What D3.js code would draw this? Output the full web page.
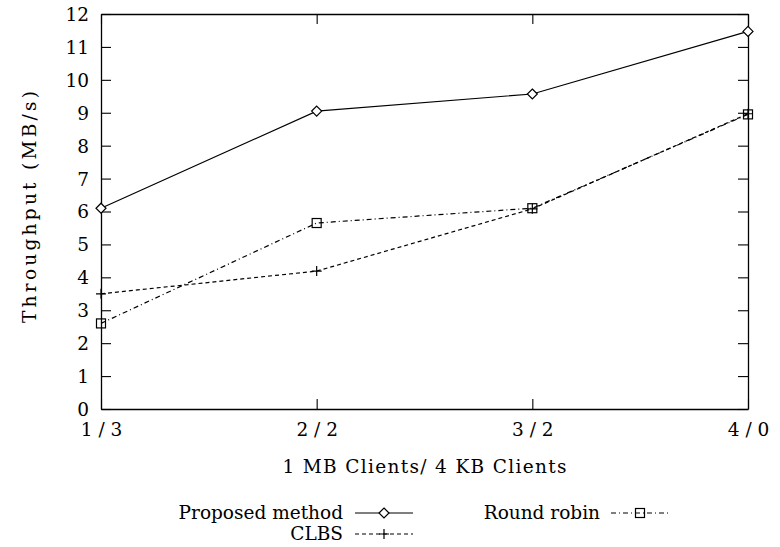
<!DOCTYPE html>
<html>
<head>
<meta charset="utf-8">
<script src="https://cdn.jsdelivr.net/npm/d3@7"></script>
<style>
    body { margin: 0; background: #fff; }
    text { font-family: "DejaVu Serif", "Liberation Serif", serif; fill: #000; }
</style>
</head>
<body>
<div id="chart"></div>
<script>
(function () {
    "use strict";

    // chart data
    const categories = ["1 / 3", "2 / 2", "3 / 2", "4 / 0"];
    const proposedValues = [6.1, 9.05, 9.57, 11.47];
    const clbsValues = [3.5, 4.19, 6.08, 8.97];
    const roundRobinValues = [2.6, 5.65, 6.1, 8.95];
    const yTicks = [0, 1, 2, 3, 4, 5, 6, 7, 8, 9, 10, 11, 12];

    const series = [
        { name: "Proposed method", values: proposedValues, dash: null, marker: "diamond" },
        { name: "CLBS", values: clbsValues, dash: "4,3", marker: "plus" },
        { name: "Round robin", values: roundRobinValues, dash: "5,3,1,3", marker: "square" },
    ];

    const width = 780;
    const height = 547;
    const margin = { top: 14, right: 32, bottom: 138, left: 101 };
    const fontSize = "18.5px";
    const fontFamily = "DejaVu Serif, serif";

    const svg = d3.select("#chart").append("svg").attr("width", width).attr("height", height);

    const x = d3.scalePoint().domain(categories).range([margin.left, width - margin.right]);
    const y = d3.scaleLinear().domain([0, 12]).range([height - margin.bottom, margin.top]);

    const tickLen = 10;

    // axes (ticks pointing inward, mirrored on all sides)
    const bottomAxis = svg.append("g")
        .attr("transform", `translate(0, ${y(0)})`)
        .call(d3.axisBottom(x).tickSizeInner(-tickLen).tickSizeOuter(0).tickPadding(14));
    const topAxis = svg.append("g")
        .attr("transform", `translate(0, ${y(12)})`)
        .call(d3.axisTop(x).tickSizeInner(-tickLen).tickSizeOuter(0).tickFormat(""));
    const leftAxis = svg.append("g")
        .attr("transform", `translate(${x(categories[0])}, 0)`)
        .call(d3.axisLeft(y).tickValues(yTicks).tickSizeInner(-tickLen).tickSizeOuter(0).tickPadding(12));
    const rightAxis = svg.append("g")
        .attr("transform", `translate(${x(categories[categories.length - 1])}, 0)`)
        .call(d3.axisRight(y).tickValues(yTicks).tickSizeInner(-tickLen).tickSizeOuter(0).tickFormat(""));

    [bottomAxis, topAxis, leftAxis, rightAxis].forEach((g) => {
        g.select(".domain").attr("stroke", "#000").attr("stroke-width", 1.3);
        g.selectAll(".tick line").attr("stroke", "#000").attr("stroke-width", 1.1);
        g.selectAll(".tick text").style("font-size", fontSize).style("font-family", fontFamily);
    });
    leftAxis.selectAll(".tick text").attr("dy", "0.35em");

    // axis titles
    svg.append("text")
        .attr("x", (x.range()[0] + x.range()[1]) / 2)
        .attr("y", 473)
        .attr("text-anchor", "middle")
        .attr("textLength", 284)
        .attr("lengthAdjust", "spacing")
        .style("font-size", fontSize)
        .text("1 MB Clients/ 4 KB Clients");

    svg.append("text")
        .attr("transform", `translate(36, 207) rotate(-90)`)
        .attr("text-anchor", "middle")
        .attr("textLength", 232)
        .attr("lengthAdjust", "spacing")
        .style("font-size", fontSize)
        .text("Throughput (MB/s)");

    // marker drawing
    const drawMarker = (g, kind, cx, cy) => {
        if (kind === "diamond") {
            g.append("path")
                .attr("d", `M${cx},${cy - 5}L${cx + 5},${cy}L${cx},${cy + 5}L${cx - 5},${cy}Z`)
                .attr("fill", "#fff").attr("stroke", "#000").attr("stroke-width", 1.2);
        } else if (kind === "square") {
            g.append("rect")
                .attr("x", cx - 4.5).attr("y", cy - 4.5).attr("width", 9).attr("height", 9)
                .attr("fill", "none").attr("stroke", "#000").attr("stroke-width", 1.2);
        } else {
            g.append("path")
                .attr("d", `M${cx - 5},${cy}H${cx + 5}M${cx},${cy - 5}V${cy + 5}`)
                .attr("stroke", "#000").attr("stroke-width", 1.2);
        }
    };

    const line = d3.line().x((d, i) => x(categories[i])).y((d) => y(d));

    series.forEach((s) => {
        const g = svg.append("g");
        g.append("path")
            .datum(s.values)
            .attr("d", line)
            .attr("fill", "none")
            .attr("stroke", "#000")
            .attr("stroke-width", 1.2)
            .attr("stroke-dasharray", s.dash);
        s.values.forEach((v, i) => drawMarker(g, s.marker, x(categories[i]), y(v)));
    });

    // legend
    const legendPos = [
        { tx: 343, ty: 513, lx: 355 },
        { tx: 343, ty: 534, lx: 355 },
        { tx: 600, ty: 513, lx: 611 },
    ];
    series.forEach((s, i) => {
        const p = legendPos[i];
        const g = svg.append("g");
        g.append("text")
            .attr("x", p.tx)
            .attr("y", p.ty)
            .attr("dy", "0.35em")
            .attr("text-anchor", "end")
            .style("font-size", fontSize)
            .text(s.name);
        g.append("line")
            .attr("x1", p.lx).attr("x2", p.lx + 58)
            .attr("y1", p.ty).attr("y2", p.ty)
            .attr("stroke", "#000").attr("stroke-width", 1.2)
            .attr("stroke-dasharray", s.dash);
        drawMarker(g, s.marker, p.lx + 29, p.ty);
    });
})();
</script>
</body>
</html>
